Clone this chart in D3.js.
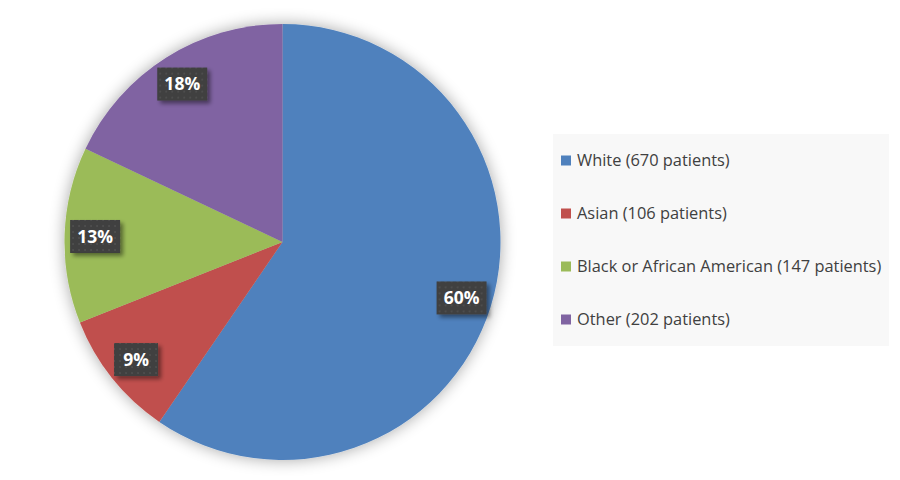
<!DOCTYPE html>
<html>
<head>
  <title>Patients by race</title>
  <script src="https://d3js.org/d3.v7.min.js"></script>
  <style>
    body { margin: 0; background: #fff; }
    svg { display: block; }
  </style>
</head>
<body>
<div id="chart"></div>
<script type="text/javascript">

  var categories = ["White", "Asian", "Black or African American", "Other"];
  var patients = [670, 106, 147, 202];
  var colors = ["#4f81bd", "#c0504d", "#9bbb59", "#8064a2"];

  var width = 900, height = 480;
  var cx = 282.5, cy = 242, radius = 218;

  var svg = d3.select("#chart").append("svg")
      .attr("width", width)
      .attr("height", height);

  var defs = svg.append("defs");

  /* soft glow behind the pie */
  var glow = defs.append("filter").attr("id", "glow")
      .attr("x", "-20%").attr("y", "-20%").attr("width", "140%").attr("height", "140%");
  glow.append("feGaussianBlur").attr("in", "SourceAlpha").attr("stdDeviation", 8);
  glow.append("feComponentTransfer").append("feFuncA").attr("type", "linear").attr("slope", 0.35);
  var gm = glow.append("feMerge");
  gm.append("feMergeNode");
  gm.append("feMergeNode").attr("in", "SourceGraphic");

  /* label box shadow */
  var shadow = defs.append("filter").attr("id", "boxShadow")
      .attr("x", "-30%").attr("y", "-30%").attr("width", "160%").attr("height", "160%");
  shadow.append("feGaussianBlur").attr("in", "SourceAlpha").attr("stdDeviation", 2);
  shadow.append("feOffset").attr("dx", 3).attr("dy", 3).attr("result", "off");
  shadow.append("feComponentTransfer").append("feFuncA").attr("type", "linear").attr("slope", 0.45);
  var sm = shadow.append("feMerge");
  sm.append("feMergeNode");
  sm.append("feMergeNode").attr("in", "SourceGraphic");

  /* dotted texture of the label boxes */
  var pat = defs.append("pattern").attr("id", "dots")
      .attr("width", 6).attr("height", 6)
      .attr("patternUnits", "userSpaceOnUse");
  pat.append("rect").attr("width", 6).attr("height", 6).attr("fill", "#3f3f3f");
  pat.append("rect").attr("x", 1).attr("y", 1).attr("width", 2).attr("height", 2).attr("fill", "#4d4d4d");

  var data = categories.map(function (c, i) {
    return { name: c, value: patients[i], color: colors[i] };
  });
  var total = d3.sum(patients);

  var pie = d3.pie().sort(null).value(function (d) { return d.value; });
  var arc = d3.arc().innerRadius(0).outerRadius(radius);
  var labelArc = d3.arc().innerRadius(radius * 0.86).outerRadius(radius * 0.86);

  var g = svg.append("g").attr("transform", "translate(" + cx + "," + cy + ")");
  var arcs = pie(data);

  g.append("g").attr("filter", "url(#glow)")
    .selectAll("path")
    .data(arcs)
    .enter().append("path")
      .attr("d", arc)
      .attr("fill", function (d) { return d.data.color; });

  var labels = g.selectAll("g.lbl")
    .data(arcs)
    .enter().append("g")
      .attr("class", "lbl")
      .attr("transform", function (d) {
        var p = labelArc.centroid(d);
        return "translate(" + p[0] + "," + p[1] + ")";
      });

  labels.append("rect")
      .attr("x", function (d) { return Math.round(d.value / total * 100) < 10 ? -22 : -25; })
      .attr("y", -16)
      .attr("width", function (d) { return Math.round(d.value / total * 100) < 10 ? 44 : 50; })
      .attr("height", 33)
      .attr("fill", "url(#dots)")
      .attr("filter", "url(#boxShadow)");

  labels.append("text")
      .attr("text-anchor", "middle")
      .attr("dy", "0.38em")
      .style("font-family", "'Open Sans', sans-serif")
      .style("font-weight", "bold")
      .style("font-size", "17.5px")
      .attr("fill", "#fff")
      .text(function (d) { return Math.round(d.value / total * 100) + "%"; });

  /* legend */
  var legend = svg.append("g");
  legend.append("rect")
      .attr("x", 553).attr("y", 134)
      .attr("width", 336).attr("height", 212)
      .attr("fill", "#f8f8f8");

  var rows = legend.selectAll("g.row")
    .data(data)
    .enter().append("g")
      .attr("class", "row")
      .attr("transform", function (d, i) { return "translate(561," + (160.5 + i * 53) + ")"; });

  rows.append("rect")
      .attr("x", 0).attr("y", -5)
      .attr("width", 10).attr("height", 10)
      .attr("fill", function (d) { return d.color; });

  rows.append("text")
      .attr("x", 16)
      .attr("dy", "0.35em")
      .style("font-family", "'Open Sans', sans-serif")
      .style("font-size", "16.4px")
      .attr("fill", "#404040")
      .text(function (d) { return d.name + " (" + d.value + " patients)"; });

</script>
</body>
</html>
